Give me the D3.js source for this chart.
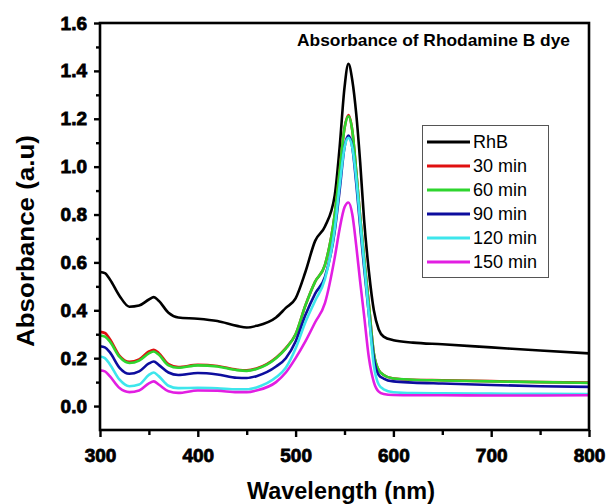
<!DOCTYPE html>
<html>
<head>
<meta charset="utf-8">
<script src="https://cdn.jsdelivr.net/npm/d3@7/dist/d3.min.js"></script>
<style>
  html, body { margin: 0; padding: 0; background: #fff; }
  svg { display: block; font-family: "Liberation Sans", Arial, sans-serif; }
</style>
</head>
<body>
<svg id="chart" width="608" height="504"></svg>
<script>
// UV-Vis absorbance spectra of Rhodamine B over irradiation time
const wavelengths = [300, 305, 310, 320, 330, 340, 350, 355, 360, 370, 380, 400, 420, 440, 450, 460, 480, 490, 500, 510,
                     520, 530, 540, 545, 550, 554, 558, 562, 566, 570, 575, 580, 585, 590, 600, 620, 650, 700, 750, 800];

const rhb = [0.56, 0.555, 0.53, 0.46, 0.415, 0.42, 0.445, 0.455, 0.44, 0.39, 0.37, 0.365, 0.355, 0.335, 0.328, 0.335, 0.37, 0.41, 0.45, 0.56,
             0.69, 0.75, 0.88, 1.08, 1.33, 1.43, 1.36, 1.22, 1.02, 0.78, 0.56, 0.40, 0.32, 0.29, 0.275, 0.265, 0.258, 0.245, 0.232, 0.22];
const min30 = [0.31, 0.305, 0.28, 0.21, 0.185, 0.195, 0.228, 0.235, 0.222, 0.175, 0.163, 0.172, 0.167, 0.152, 0.149, 0.157, 0.202, 0.242, 0.30, 0.42,
               0.52, 0.59, 0.80, 0.98, 1.16, 1.215, 1.15, 0.98, 0.79, 0.62, 0.42, 0.22, 0.15, 0.13, 0.115, 0.11, 0.108, 0.104, 0.10, 0.098];
const min60 = [0.295, 0.29, 0.27, 0.205, 0.18, 0.19, 0.22, 0.228, 0.215, 0.17, 0.16, 0.17, 0.165, 0.15, 0.147, 0.155, 0.20, 0.24, 0.30, 0.42,
               0.52, 0.59, 0.80, 0.98, 1.16, 1.21, 1.15, 0.98, 0.79, 0.62, 0.42, 0.22, 0.15, 0.13, 0.115, 0.11, 0.107, 0.103, 0.10, 0.097];
const min90 = [0.25, 0.245, 0.225, 0.16, 0.135, 0.145, 0.178, 0.186, 0.172, 0.14, 0.13, 0.138, 0.132, 0.118, 0.117, 0.125, 0.165, 0.20, 0.27, 0.38,
               0.47, 0.54, 0.73, 0.90, 1.08, 1.13, 1.08, 0.93, 0.75, 0.58, 0.38, 0.20, 0.13, 0.115, 0.103, 0.098, 0.094, 0.088, 0.083, 0.08];
const min120 = [0.207, 0.20, 0.175, 0.11, 0.083, 0.09, 0.13, 0.14, 0.125, 0.085, 0.075, 0.076, 0.074, 0.07, 0.07, 0.078, 0.12, 0.16, 0.24, 0.35,
                0.44, 0.53, 0.74, 0.92, 1.08, 1.12, 1.08, 0.95, 0.77, 0.60, 0.38, 0.17, 0.09, 0.07, 0.058, 0.054, 0.053, 0.052, 0.051, 0.05];
const min150 = [0.149, 0.145, 0.125, 0.075, 0.058, 0.065, 0.095, 0.103, 0.09, 0.062, 0.055, 0.065, 0.064, 0.058, 0.058, 0.065, 0.10, 0.14, 0.20, 0.27,
                0.35, 0.43, 0.62, 0.74, 0.83, 0.85, 0.80, 0.67, 0.52, 0.38, 0.20, 0.10, 0.06, 0.05, 0.046, 0.045, 0.045, 0.044, 0.044, 0.045];

const seriesNames = ["RhB", "30 min", "60 min", "90 min", "120 min", "150 min"];
const seriesColors = ["#000000", "#e01010", "#2ed52e", "#0d0d9e", "#3ee6ec", "#e21ee2"];
const seriesValues = [rhb, min30, min60, min90, min120, min150];

const yMajorTicks = [0, 0.2, 0.4, 0.6, 0.8, 1.0, 1.2, 1.4, 1.6];
const yMinorTicks = [0.1, 0.3, 0.5, 0.7, 0.9, 1.1, 1.3, 1.5];
const xMajorTicks = [300, 400, 500, 600, 700, 800];
const xMinorTicks = [350, 450, 550, 650, 750];

const svg = d3.select("#chart");
const plotLeft = 100, plotRight = 589, plotTop = 23, plotBottom = 430;

const x = d3.scaleLinear().domain([300, 800]).range([plotLeft, plotRight]);
const y = d3.scaleLinear().domain([-0.1, 1.6]).range([plotBottom, plotTop]);

// Spectra
const line = d3.line()
  .x(d => x(d[0]))
  .y(d => y(d[1]))
  .curve(d3.curveMonotoneX);

const plot = svg.append("g");
seriesValues.forEach((vals, i) => {
  plot.append("path")
    .datum(wavelengths.map((w, k) => [w, vals[k]]))
    .attr("d", line)
    .attr("fill", "none")
    .attr("stroke", seriesColors[i])
    .attr("stroke-width", 2.6)
    .attr("stroke-linejoin", "round");
});

// Axes
const styleTicks = g => {
  g.select(".domain").remove();
  g.selectAll(".tick line").attr("stroke", "#000").attr("stroke-width", 2.4);
  g.selectAll(".tick text")
    .attr("fill", "#000")
    .attr("stroke", "#000")
    .attr("stroke-width", 0.8)
    .style("font-size", "19px")
    .style("font-weight", "bold")
    .style("font-family", '"Liberation Sans", Arial, sans-serif');
};

svg.append("g")
  .attr("transform", `translate(${plotLeft},0)`)
  .call(d3.axisLeft(y).tickValues(yMajorTicks).tickSize(6).tickPadding(7).tickFormat(d3.format(".1f")))
  .call(styleTicks);
svg.append("g")
  .attr("transform", `translate(${plotLeft},0)`)
  .call(d3.axisLeft(y).tickValues(yMinorTicks).tickSize(4).tickFormat(""))
  .call(styleTicks);

svg.append("g")
  .attr("transform", `translate(0,${plotBottom})`)
  .call(d3.axisBottom(x).tickValues(xMajorTicks).tickSize(7).tickPadding(12).tickFormat(d3.format("d")))
  .call(styleTicks);
svg.append("g")
  .attr("transform", `translate(0,${plotBottom})`)
  .call(d3.axisBottom(x).tickValues(xMinorTicks).tickSize(5).tickFormat(""))
  .call(styleTicks);

// Frame
svg.append("rect")
  .attr("x", plotLeft).attr("y", plotTop)
  .attr("width", plotRight - plotLeft).attr("height", plotBottom - plotTop)
  .attr("fill", "none").attr("stroke", "#000").attr("stroke-width", 2.6);

// Title inside plot
svg.append("text")
  .attr("x", 297).attr("y", 46)
  .attr("textLength", 273).attr("lengthAdjust", "spacingAndGlyphs")
  .style("font-size", "17px").style("font-weight", "bold")
  .text("Absorbance of Rhodamine B dye");

// Axis titles
svg.append("text")
  .attr("x", 341).attr("y", 499)
  .attr("text-anchor", "middle")
  .attr("textLength", 188).attr("lengthAdjust", "spacingAndGlyphs")
  .style("font-size", "23px").style("font-weight", "bold")
  .text("Wavelength (nm)");

svg.append("text")
  .attr("transform", "translate(34,241) rotate(-90)")
  .attr("text-anchor", "middle")
  .attr("textLength", 212).attr("lengthAdjust", "spacingAndGlyphs")
  .style("font-size", "24px").style("font-weight", "bold")
  .text("Absorbance (a.u)");

// Legend
const legend = svg.append("g");
legend.append("rect")
  .attr("x", 422.5).attr("y", 125.5).attr("width", 126).attr("height", 152)
  .attr("fill", "#fff").attr("stroke", "#555").attr("stroke-width", 1);
seriesNames.forEach((name, i) => {
  const ry = 142 + i * 24;
  legend.append("line")
    .attr("x1", 427).attr("x2", 470).attr("y1", ry).attr("y2", ry)
    .attr("stroke", seriesColors[i]).attr("stroke-width", 3);
  legend.append("text")
    .attr("x", 473).attr("y", ry)
    .attr("dy", "0.36em")
    .style("font-size", "18px")
    .text(name);
});
</script>
</body>
</html>
